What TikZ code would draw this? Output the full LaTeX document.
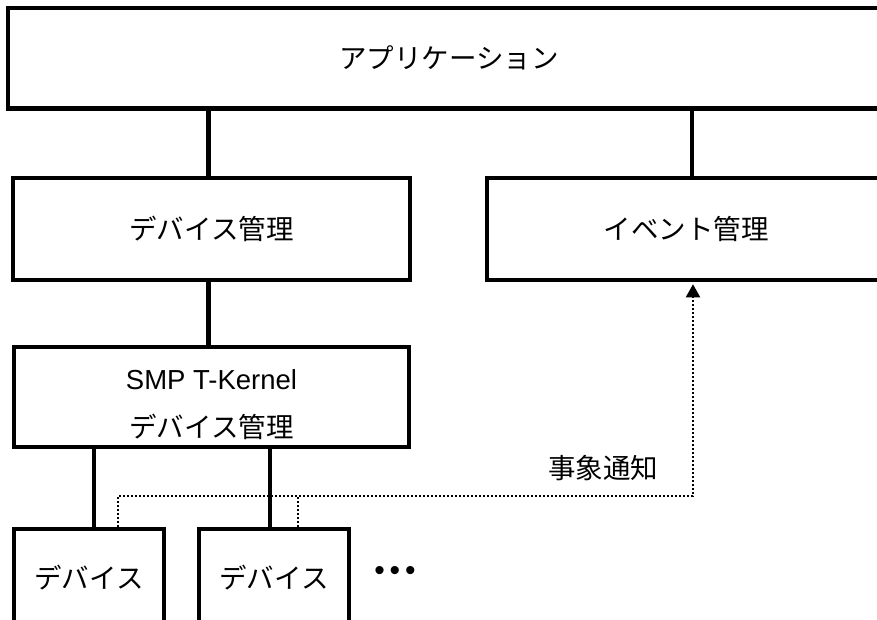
\documentclass[tikz,border=0pt]{standalone}
\usepackage{fontspec}
\setmainfont{Liberation Sans}
\newfontfamily\jp{Noto Sans CJK JP}
\usetikzlibrary{arrows.meta}

\tikzset{
  box/.style={draw, line width=4.5pt, rectangle, inner sep=0pt,
    font=\jp\fontsize{27.5}{33}\selectfont},
  link/.style={line width=4.5pt},
  notify/.style={line width=2pt, dotted},
}

\begin{document}
\begin{tikzpicture}[x=1pt,y=-1pt]
    \useasboundingbox (0,0) rectangle (877,619);
    \clip (0,0) rectangle (877,619);
    % boxes
    \node[box, minimum width=882pt, minimum height=100.5pt] (app) at (449,58) {アプリケーション};
    \node[box, minimum width=397pt, minimum height=102pt] (devmgr) at (211.5,229) {デバイス管理};
    \node[box, minimum width=398pt, minimum height=102pt] (evmgr) at (686,229) {イベント管理};
    \node[box, minimum width=395pt, minimum height=100pt] (smp) at (211.5,397) {};
    \node[align=center, inner sep=0pt, font=\fontsize{27.5}{48}\selectfont]
      (smptext) at ([yshift=-8]smp.center) {SMP T-Kernel\\{\jp デバイス管理}};
    \node[box, minimum width=150pt, minimum height=98pt] (dev1) at (89,578) {デバイス};
    \node[box, minimum width=150pt, minimum height=98pt] (dev2) at (274,578) {デバイス};
    \node[font=\fontsize{30}{36}\selectfont, inner sep=0pt] (more) at (395,573) {•\kern5pt•\kern5pt•};
    \node[font=\jp\fontsize{27.5}{33}\selectfont, inner sep=0pt] (notice) at (603,468) {事象通知};
    % links
    \coordinate (l1) at ([xshift=-3]devmgr.north);
    \coordinate (l2) at ([xshift=6]evmgr.north);
    \coordinate (l3) at ([xshift=-3]smp.north);
    \coordinate (l4) at ([xshift=5]dev1.north);
    \coordinate (l5) at ([xshift=-4]dev2.north);
    \draw[link] (l1) -- (l1 |- app.south);
    \draw[link] (l2) -- (l2 |- app.south);
    \draw[link] (l3) -- (l3 |- devmgr.south);
    \draw[link] (l4) -- (l4 |- smp.south);
    \draw[link] (l5) -- (l5 |- smp.south);
    % event notification
    \coordinate (src1) at ([xshift=29]dev1.north);
    \coordinate (src2) at ([xshift=24]dev2.north);
    \coordinate (hit) at ([xshift=7]evmgr.south);
    \coordinate (bus) at (0,496);
    \draw[notify, -{Triangle[length=13pt,width=14pt]}, shorten >=2pt]
      (src1) -- (src1 |- bus) -- (hit |- bus) -- (hit);
    \draw[notify] (src2) -- (src2 |- bus);
\end{tikzpicture}
\end{document}
